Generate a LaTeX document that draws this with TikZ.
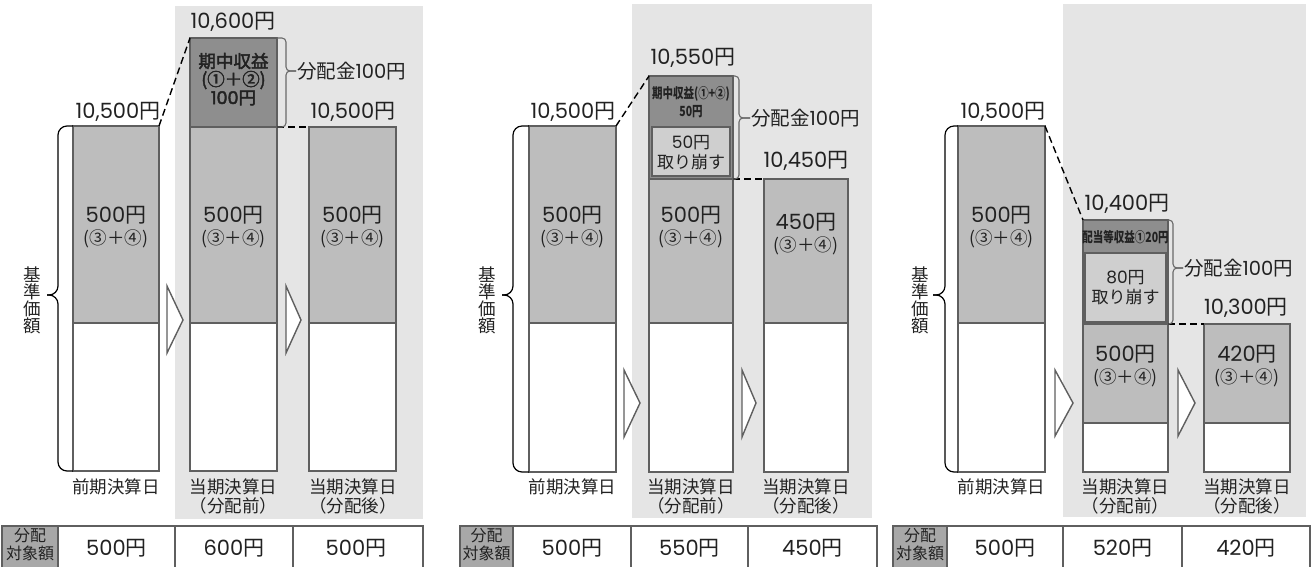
\documentclass[tikz,border=0pt]{standalone}
\usepackage{fontspec}
\setmainfont{Noto Sans CJK JP}
\newfontfamily\numf{Poppins}
\newfontfamily\jpb[FakeBold=2.5]{Noto Sans CJK JP}
\newfontfamily\numb[FakeBold=2.5]{Poppins}
\newfontfamily\jpn[FakeStretch=0.75]{Noto Sans CJK JP}
\usetikzlibrary{calc}
\definecolor{bgc}{HTML}{E5E5E5}
\definecolor{barc}{HTML}{BDBDBD}
\definecolor{darkc}{HTML}{8E8E8E}
\definecolor{lightc}{HTML}{CFCFCF}
\definecolor{edgec}{HTML}{5F5F5F}
\definecolor{hdrc}{HTML}{A8A8A8}
\definecolor{bracec}{HTML}{6A6A6A}
\definecolor{txtc}{HTML}{222222}
\newcommand\nm[1]{{\numf #1}円}
\newcommand\mkseg[6]{\node[#6, minimum width={#4-#2}, minimum height={#5-#3}] (#1) at ({(#2+#4)/2},{(#3+#5)/2}) {};}
\tikzset{
 segbox/.style={draw=edgec, line width=1.1pt, inner sep=0pt, outer sep=0pt},
 graybar/.style={segbox, fill=barc},
 whitebar/.style={segbox, fill=white},
 darkbar/.style={segbox, fill=darkc},
 lightbar/.style={segbox, fill=lightc},
 hdrcell/.style={segbox, fill=hdrc},
 tcell/.style={segbox, fill=white},
 every node/.append style={text=txtc},
 lab/.style={inner sep=0pt, font=\fontsize{21}{21}\selectfont},
 cjk/.style={inner sep=0pt, font=\fontsize{17.5}{18}\selectfont},
 paren/.style={inner sep=0pt, font=\fontsize{17.5}{18}\selectfont},
 bld/.style={inner sep=0pt, font=\jpb\fontsize{17.5}{18}\selectfont},
 cond/.style={inner sep=0pt, font=\jpn\fontsize{14}{15}\selectfont\bfseries},
 lite/.style={inner sep=0pt, font=\fontsize{17}{17}\selectfont},
 dist/.style={inner sep=1pt, anchor=west, font=\fontsize{19.5}{19.5}\selectfont},
 hdr/.style={inner sep=0pt, font=\fontsize{16}{16}\selectfont},
 vert/.style={inner sep=0pt, align=center, font=\fontsize{17.5}{17}\selectfont},
 dashconn/.style={draw=black, line width=1.4pt, dash pattern=on 7pt off 4pt},
 lbrace/.style={draw=black, line width=1.2pt, rounded corners=9pt},
 rbrace/.style={draw=bracec, line width=1.1pt, rounded corners=4pt},
 arrowtri/.style={draw=edgec, fill=white, line width=1.4pt, line join=miter},
}
\begin{document}
\begin{tikzpicture}[x=1pt,y=-1pt]
\path[use as bounding box] (0,0) rectangle (1313,566);
\clip (0,0) rectangle (1313,566);
% backgrounds
\fill[bgc] (175,6) rectangle (423,519);
\fill[bgc] (632,4) rectangle (872,518);
\fill[bgc] (1063,4) rectangle (1306,517);

%%%%%%%%%%%%%%%% PANEL 1
\mkseg{p1a}{73}{126}{159}{323}{graybar}
\mkseg{p1aw}{73}{323}{159}{471}{whitebar}
\mkseg{p1bd}{190}{38}{277}{127}{darkbar}
\mkseg{p1b}{190}{127}{277}{323}{graybar}
\mkseg{p1bw}{190}{323}{277}{471}{whitebar}
\mkseg{p1c}{309}{127}{396}{323}{graybar}
\mkseg{p1cw}{309}{323}{396}{471}{whitebar}
\draw[dashconn] (p1a.north east) -- (p1bd.north west);
\draw[dashconn] (p1bd.south east) -- (p1c.north west);
\draw[arrowtri] (167,286) -- (183,320) -- (167,353) -- cycle;
\draw[arrowtri] (286,286) -- (301,320) -- (286,353) -- cycle;
\node[lab] (p1la) at (118,112) {\nm{10,500}};
\node[lab] (p1lb) at (233,22) {\nm{10,600}};
\node[lab] (p1lc) at (353,112) {\nm{10,500}};
\node[bld] (p1d1) at (233.5,61) {期中収益};
\node[bld] (p1d2) at (233.5,80) {(①＋②)};
\node[bld] (p1d3) at (233.5,98) {{\numb 100}円};
\node[lab] (p1v1) at (116,215) {\nm{500}};
\node[paren] (p1p1) at (116,239) {(③＋④)};
\node[lab] (p1v2) at (233.5,215) {\nm{500}};
\node[paren] (p1p2) at (233.5,239) {(③＋④)};
\node[lab] (p1v3) at (352.5,215) {\nm{500}};
\node[paren] (p1p3) at (352.5,239) {(③＋④)};
\node[dist] (p1dist) at (296,71) {分配金{\numf 100}円};
\draw[rbrace] (p1bd.north east) -- ++(9,0) |- (p1dist.west);
\draw[rbrace] (p1bd.south east) -- ++(9,0) |- (p1dist.west);
\coordinate (p1tip) at (47,295);
\draw[lbrace] (p1a.north west) -- ++(-15,0) |- (p1tip);
\draw[lbrace] (p1aw.south west) -- ++(-15,0) |- (p1tip);
\node[vert] (p1k) at (32,300) {基\\準\\価\\額};
\node[cjk] (p1n1) at (116,487) {前期決算日};
\node[cjk] (p1n2) at (233.5,487) {当期決算日};
\node[cjk] (p1n2b) at (233.5,506) {（分配前）};
\node[cjk] (p1n3) at (353,487) {当期決算日};
\node[cjk] (p1n3b) at (353,506) {（分配後）};
\mkseg{p1h}{2}{526}{58}{575}{hdrcell}
\mkseg{p1t1}{58}{526}{175}{575}{tcell}
\mkseg{p1t2}{175}{526}{293}{575}{tcell}
\mkseg{p1t3}{293}{526}{423}{575}{tcell}
\node[hdr] (p1h1) at (30,536) {分配};
\node[hdr] (p1h2) at (30,553) {対象額};
\node[lab] (p1tv1) at (116.5,548) {\nm{500}};
\node[lab] (p1tv2) at (234,548) {\nm{600}};
\node[lab] (p1tv3) at (356,548) {\nm{500}};

%%%%%%%%%%%%%%%% PANEL 2
\mkseg{p2a}{529}{126}{616}{323}{graybar}
\mkseg{p2aw}{529}{323}{616}{472}{whitebar}
\mkseg{p2bd}{649}{76}{733}{179}{darkbar}
\mkseg{p2bl}{652}{127}{730}{176}{lightbar}
\mkseg{p2b}{649}{179}{733}{323}{graybar}
\mkseg{p2bw}{649}{323}{733}{472}{whitebar}
\mkseg{p2c}{764}{179}{848}{323}{graybar}
\mkseg{p2cw}{764}{323}{848}{472}{whitebar}
\draw[dashconn] (p2a.north east) -- (p2bd.north west);
\draw[dashconn] (p2bd.south east) -- (p2c.north west);
\draw[arrowtri] (624,370) -- (640,403) -- (624,437) -- cycle;
\draw[arrowtri] (742,370) -- (756,403) -- (742,437) -- cycle;
\node[lab] (p2la) at (573,112) {\nm{10,500}};
\node[lab] (p2lb) at (693,58) {\nm{10,550}};
\node[lab] (p2lc) at (806,161) {\nm{10,450}};
\node[cond] (p2d1) at (691,94) {期中収益(①+②)};
\node[cond] (p2d2) at (691,112) {50円};
\node[lite] (p2l1) at (691,143) {{\numf 50}円};
\node[lite] (p2l2) at (691,162) {取り崩す};
\node[lab] (p2v1) at (572.5,215) {\nm{500}};
\node[paren] (p2p1) at (572.5,239) {(③＋④)};
\node[lab] (p2v2) at (691,215) {\nm{500}};
\node[paren] (p2p2) at (691,239) {(③＋④)};
\node[lab] (p2v3) at (806,222) {\nm{450}};
\node[paren] (p2p3) at (806,246) {(③＋④)};
\node[dist] (p2dist) at (750,118) {分配金{\numf 100}円};
\draw[rbrace] (p2bd.north east) -- ++(6,0) |- (p2dist.west);
\draw[rbrace] (p2bd.south east) -- ++(6,0) |- (p2dist.west);
\coordinate (p2tip) at (502,295);
\draw[lbrace] (p2a.north west) -- ++(-16,0) |- (p2tip);
\draw[lbrace] (p2aw.south west) -- ++(-16,0) |- (p2tip);
\node[vert] (p2k) at (487,300) {基\\準\\価\\額};
\node[cjk] (p2n1) at (572.5,487) {前期決算日};
\node[cjk] (p2n2) at (691,487) {当期決算日};
\node[cjk] (p2n2b) at (691,506) {（分配前）};
\node[cjk] (p2n3) at (806,487) {当期決算日};
\node[cjk] (p2n3b) at (806,506) {（分配後）};
\mkseg{p2h}{460}{526}{513}{575}{hdrcell}
\mkseg{p2t1}{513}{526}{631}{575}{tcell}
\mkseg{p2t2}{631}{526}{748}{575}{tcell}
\mkseg{p2t3}{748}{526}{877}{575}{tcell}
\node[hdr] (p2h1) at (486.5,536) {分配};
\node[hdr] (p2h2) at (486.5,553) {対象額};
\node[lab] (p2tv1) at (572,548) {\nm{500}};
\node[lab] (p2tv2) at (689.5,548) {\nm{550}};
\node[lab] (p2tv3) at (812.5,548) {\nm{450}};

%%%%%%%%%%%%%%%% PANEL 3
\mkseg{p3a}{958}{126}{1045}{323}{graybar}
\mkseg{p3aw}{958}{323}{1045}{472}{whitebar}
\mkseg{p3bd}{1083}{220}{1168}{324}{darkbar}
\mkseg{p3bl}{1085}{253}{1166}{322}{lightbar}
\mkseg{p3b}{1083}{324}{1168}{423}{graybar}
\mkseg{p3bw}{1083}{423}{1168}{472}{whitebar}
\mkseg{p3c}{1204}{324}{1290}{423}{graybar}
\mkseg{p3cw}{1204}{423}{1290}{472}{whitebar}
\draw[dashconn] (p3a.north east) -- (p3bd.north west);
\draw[dashconn] (p3bd.south east) -- (p3c.north west);
\draw[arrowtri] (1055,370) -- (1073,403) -- (1055,436) -- cycle;
\draw[arrowtri] (1178,370) -- (1195,403) -- (1178,436) -- cycle;
\node[lab] (p3la) at (1003,112) {\nm{10,500}};
\node[lab] (p3lb) at (1127,204) {\nm{10,400}};
\node[lab] (p3lc) at (1246,308) {\nm{10,300}};
\node[cond] (p3d1) at (1125.5,237) {配当等収益①20円};
\node[lite] (p3l1) at (1125.5,278) {{\numf 80}円};
\node[lite] (p3l2) at (1125.5,297) {取り崩す};
\node[lab] (p3v1) at (1001.5,215) {\nm{500}};
\node[paren] (p3p1) at (1001.5,239) {(③＋④)};
\node[lab] (p3v2) at (1125.5,354) {\nm{500}};
\node[paren] (p3p2) at (1125.5,378) {(③＋④)};
\node[lab] (p3v3) at (1247,354) {\nm{420}};
\node[paren] (p3p3) at (1247,378) {(③＋④)};
\node[dist] (p3dist) at (1183,268) {分配金{\numf 100}円};
\draw[rbrace] (p3bd.north east) -- ++(5,0) |- (p3dist.west);
\draw[rbrace] (p3bd.south east) -- ++(5,0) |- (p3dist.west);
\coordinate (p3tip) at (933,295);
\draw[lbrace] (p3a.north west) -- ++(-13,0) |- (p3tip);
\draw[lbrace] (p3aw.south west) -- ++(-13,0) |- (p3tip);
\node[vert] (p3k) at (920,300) {基\\準\\価\\額};
\node[cjk] (p3n1) at (1001.5,487) {前期決算日};
\node[cjk] (p3n2) at (1125.5,487) {当期決算日};
\node[cjk] (p3n2b) at (1125.5,506) {（分配前）};
\node[cjk] (p3n3) at (1247,487) {当期決算日};
\node[cjk] (p3n3b) at (1247,506) {（分配後）};
\mkseg{p3h}{893}{526}{947}{575}{hdrcell}
\mkseg{p3t1}{947}{526}{1063}{575}{tcell}
\mkseg{p3t2}{1063}{526}{1182}{575}{tcell}
\mkseg{p3t3}{1182}{526}{1310}{575}{tcell}
\node[hdr] (p3h1) at (920,536) {分配};
\node[hdr] (p3h2) at (920,553) {対象額};
\node[lab] (p3tv1) at (1005,548) {\nm{500}};
\node[lab] (p3tv2) at (1122.5,548) {\nm{520}};
\node[lab] (p3tv3) at (1246,548) {\nm{420}};
\end{tikzpicture}
\end{document}
